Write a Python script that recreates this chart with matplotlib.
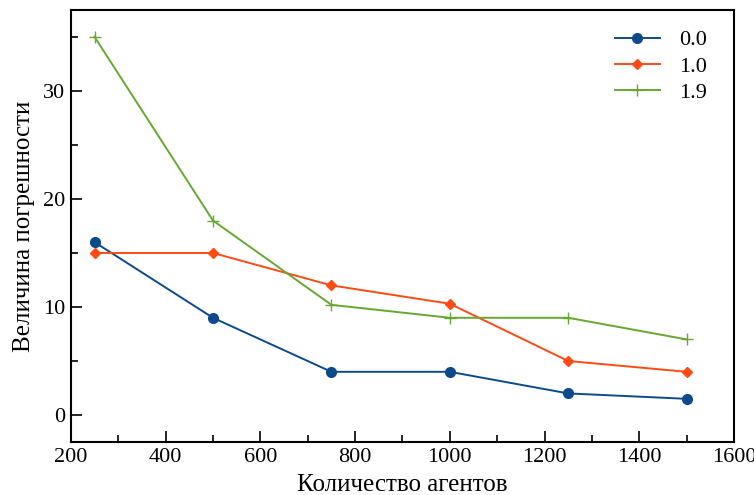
import numpy as np
import matplotlib.pyplot as plt
from matplotlib.ticker import MultipleLocator

plt.rcParams['font.family'] = ['Liberation Serif', 'DejaVu Serif']

# данные
agents = [250, 500, 750, 1000, 1250, 1500]
err_00 = [16, 9, 4, 4, 2, 1.5]
err_10 = [15, 15, 12, 10.3, 5, 4]
err_19 = [35, 18, 10.2, 9, 9, 7]

fig = plt.figure(figsize=(7.54, 4.95), dpi=100)
ax = fig.add_axes([0.094, 0.107, 0.8795, 0.873])

ax.plot(agents, err_00, color='#0d4a8c', marker='o', markersize=7, lw=1.4, label='0.0')
ax.plot(agents, err_10, color='#ff4a14', marker='D', markersize=5, lw=1.4, label='1.0')
ax.plot(agents, err_19, color='#66a832', marker='+', markersize=9, lw=1.4, label='1.9')

ax.set_xlim(200, 1600)
ax.set_ylim(-2.5, 37.5)
ax.xaxis.set_major_locator(MultipleLocator(200))
ax.xaxis.set_minor_locator(MultipleLocator(100))
ax.yaxis.set_major_locator(MultipleLocator(10))
ax.yaxis.set_minor_locator(MultipleLocator(5))
ax.tick_params(which='both', direction='in', top=False, right=False, labelsize=16, width=1.2, pad=4)
ax.tick_params(which='major', length=8)
ax.tick_params(which='minor', length=5)
for s in ax.spines.values():
    s.set_linewidth(1.5)

ax.set_xlabel('Количество агентов', fontsize=18, labelpad=5)
ax.set_ylabel('Величина погрешности', fontsize=18, labelpad=6)
ax.legend(loc='upper right', bbox_to_anchor=(0.99, 1.0), frameon=False, fontsize=16,
          handlelength=2.0, labelspacing=0.25, handletextpad=0.9)

fig.savefig('out.png', dpi=100)
